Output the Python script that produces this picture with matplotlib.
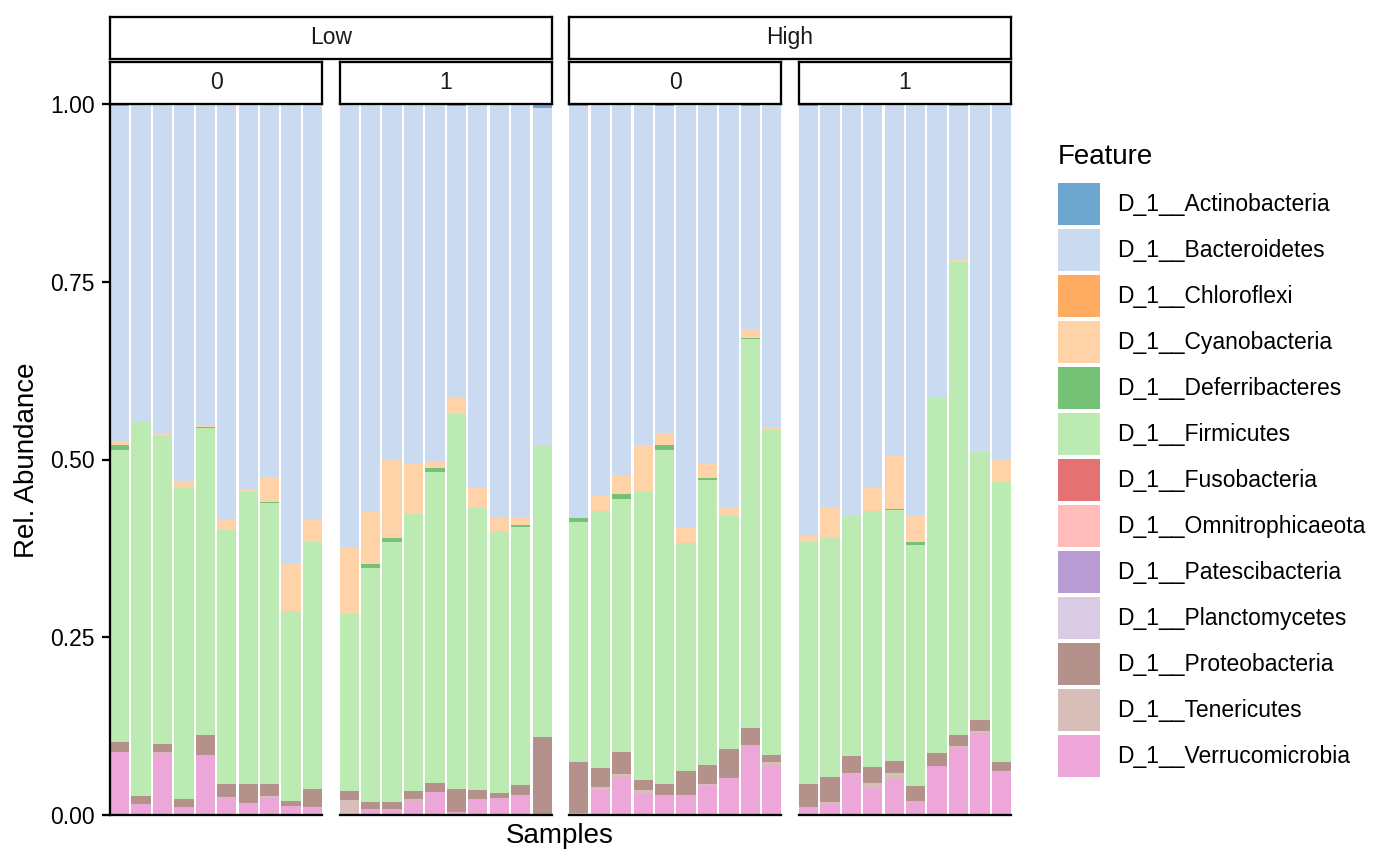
import matplotlib
matplotlib.use("Agg")
import matplotlib.pyplot as plt
from matplotlib.patches import Patch
import numpy as np

plt.rcParams['font.family'] = ['Liberation Sans', 'DejaVu Sans']

# ---------------- data ----------------
levels = ["Low", "High"]
groups = ["0", "1"]
n_per_panel = 10

features = ["D_1__Actinobacteria", "D_1__Bacteroidetes", "D_1__Chloroflexi",
            "D_1__Cyanobacteria", "D_1__Deferribacteres", "D_1__Firmicutes",
            "D_1__Fusobacteria", "D_1__Omnitrophicaeota", "D_1__Patescibacteria",
            "D_1__Planctomycetes", "D_1__Proteobacteria", "D_1__Tenericutes",
            "D_1__Verrucomicrobia"]

# sample order: Low/0 (10), Low/1 (10), High/0 (10), High/1 (10)
actinobacteria = [0.003, 0, 0, 0, 0, 0, 0, 0, 0, 0,
                  0, 0, 0, 0, 0, 0.003, 0, 0, 0, 0.005,
                  0.003, 0.002, 0, 0, 0.003, 0, 0, 0, 0.003, 0,
                  0.003, 0, 0, 0, 0, 0, 0, 0.003, 0, 0]
bacteroidetes = [0.473, 0.446, 0.4645, 0.530, 0.451, 0.583, 0.542, 0.524, 0.646, 0.584,
                 0.624, 0.572, 0.499, 0.505, 0.503, 0.410, 0.538, 0.582, 0.582, 0.474,
                 0.579, 0.548, 0.522, 0.480, 0.460, 0.596, 0.507, 0.568, 0.314, 0.454,
                 0.605, 0.5685, 0.578, 0.5395, 0.495, 0.578, 0.413, 0.217, 0.4875, 0.499]
chloroflexi = [0, 0, 0, 0, 0, 0, 0, 0, 0, 0,
               0, 0, 0, 0, 0, 0, 0, 0, 0, 0,
               0, 0, 0, 0, 0, 0, 0, 0, 0, 0,
               0, 0, 0, 0, 0, 0, 0, 0, 0, 0]
cyanobacteria = [0.003, 0, 0.0025, 0.0095, 0.003, 0.016, 0.004, 0.036, 0.067, 0.032,
                 0.094, 0.075, 0.112, 0.071, 0.0095, 0.023, 0.030, 0.018, 0.0095, 0,
                 0, 0.022, 0.027, 0.066, 0.017, 0.022, 0.019, 0.011, 0.012, 0.004,
                 0.0065, 0.040, 0, 0.0325, 0.075, 0.0385, 0, 0.002, 0.002, 0.033]
deferribacteres = [0.007, 0, 0, 0, 0.001, 0, 0, 0.001, 0, 0,
                   0, 0.006, 0.005, 0, 0.0045, 0, 0, 0, 0.0035, 0.001,
                   0.0055, 0, 0.006, 0, 0.007, 0, 0.003, 0, 0.001, 0,
                   0, 0.0005, 0, 0, 0.001, 0.0035, 0, 0, 0, 0]
firmicutes = [0.411, 0.527, 0.433, 0.4385, 0.433, 0.358, 0.411, 0.396, 0.267, 0.348,
              0.248, 0.329, 0.366, 0.390, 0.438, 0.527, 0.3965, 0.369, 0.363, 0.410,
              0.3385, 0.362, 0.356, 0.405, 0.470, 0.320, 0.401, 0.328, 0.548, 0.457,
              0.3425, 0.337, 0.3385, 0.360, 0.353, 0.339, 0.4995, 0.665, 0.3765, 0.394]
fusobacteria = [0, 0, 0, 0, 0, 0, 0, 0, 0, 0,
                0, 0, 0, 0, 0, 0, 0, 0, 0, 0,
                0, 0, 0, 0, 0, 0, 0, 0, 0, 0,
                0, 0, 0, 0, 0, 0, 0, 0, 0, 0]
omnitrophicaeota = [0, 0, 0, 0, 0, 0, 0, 0, 0, 0,
                    0, 0, 0, 0, 0, 0, 0, 0, 0, 0,
                    0, 0, 0, 0, 0, 0, 0, 0, 0, 0,
                    0, 0, 0, 0, 0, 0, 0, 0, 0, 0]
patescibacteria = [0, 0, 0, 0, 0, 0, 0, 0, 0, 0,
                   0, 0, 0, 0, 0, 0, 0, 0, 0, 0,
                   0, 0, 0, 0, 0, 0, 0, 0, 0, 0,
                   0, 0, 0, 0, 0, 0, 0, 0, 0, 0]
planctomycetes = [0, 0, 0, 0, 0, 0, 0, 0, 0, 0,
                  0, 0, 0, 0, 0, 0, 0, 0, 0, 0,
                  0, 0, 0, 0, 0, 0, 0, 0, 0, 0,
                  0, 0, 0, 0, 0, 0, 0, 0, 0, 0]
proteobacteria = [0.014, 0.011, 0.011, 0.011, 0.027, 0.017, 0.026, 0.016, 0.007, 0.025,
                  0.013, 0.0095, 0.0095, 0.012, 0.013, 0.033, 0.0135, 0.007, 0.014, 0.110,
                  0.071, 0.027, 0.031, 0.0135, 0.015, 0.034, 0.027, 0.041, 0.023, 0.011,
                  0.032, 0.036, 0.0245, 0.023, 0.017, 0.021, 0.0185, 0.016, 0.016, 0.0115]
tenericutes = [0, 0, 0.0015, 0, 0, 0.002, 0, 0.003, 0.001, 0.001,
               0.021, 0, 0, 0.003, 0, 0, 0, 0, 0, 0,
               0, 0.0035, 0.004, 0.0065, 0, 0, 0.002, 0, 0.001, 0.004,
               0, 0.002, 0.002, 0.007, 0.008, 0, 0, 0.002, 0.003, 0.002]
verrucomicrobia = [0.089, 0.016, 0.0875, 0.011, 0.085, 0.024, 0.017, 0.024, 0.012, 0.010,
                   0, 0.0085, 0.0085, 0.019, 0.032, 0.004, 0.022, 0.024, 0.028, 0,
                   0.003, 0.0355, 0.054, 0.029, 0.028, 0.028, 0.041, 0.052, 0.098, 0.070,
                   0.011, 0.016, 0.057, 0.038, 0.051, 0.020, 0.069, 0.095, 0.115, 0.0605]

series = [actinobacteria, bacteroidetes, chloroflexi, cyanobacteria, deferribacteres,
          firmicutes, fusobacteria, omnitrophicaeota, patescibacteria, planctomycetes,
          proteobacteria, tenericutes, verrucomicrobia]

colors = ["#1f77b4", "#aec7e8", "#ff7f0e", "#ffbb78", "#2ca02c", "#98df8a",
          "#d62728", "#ff9896", "#9467bd", "#c5b0d5", "#8c564b", "#c49c94", "#e377c2"]
ALPHA = 0.65

# ---------------- layout ----------------
W, H = 1400, 865
fig = plt.figure(figsize=(W / 100, H / 100), dpi=100)

def fx(px):
    return px / W

def fy(py):
    return 1 - py / H

panel_left = [110, 339.6, 569.2, 798.8]
panel_w = 212.2
panel_top, panel_bot = 104, 815
line_w = 1.65

axes = []
for i, left in enumerate(panel_left):
    ax = fig.add_axes([fx(left), fy(panel_bot), fx(panel_w), (panel_bot - panel_top) / H])
    axes.append(ax)
    sl = slice(i * n_per_panel, (i + 1) * n_per_panel)
    x = np.arange(1, n_per_panel + 1)
    bottom = np.zeros(n_per_panel)
    # ggplot stacks first level on top -> draw from the last feature upward
    for name, vals, col in reversed(list(zip(features, series, colors))):
        v = np.array(vals[sl], dtype=float)
        ax.bar(x, v, bottom=bottom, width=0.9, color=col, alpha=ALPHA,
               linewidth=0, align='center')
        bottom += v
    ax.set_xlim(0.55, n_per_panel + 0.45)
    ax.set_ylim(0, 1)
    ax.set_xticks([])
    for s in ['top', 'right']:
        ax.spines[s].set_visible(False)
    ax.spines['bottom'].set_linewidth(line_w)
    if i == 0:
        ax.spines['left'].set_linewidth(line_w)
        ax.set_yticks([0, 0.25, 0.5, 0.75, 1.0])
        ax.set_yticklabels(["0.00", "0.25", "0.50", "0.75", "1.00"])
        ax.tick_params(axis='y', length=5.8, width=line_w, pad=5.2,
                       labelsize=16.5, colors='black')
    else:
        ax.spines['left'].set_visible(False)
        ax.set_yticks([])

# ---------------- strips ----------------
def strip(x0, x1, y0, y1, label):
    sax = fig.add_axes([fx(x0), fy(y1), fx(x1 - x0), (y1 - y0) / H])
    sax.set_xticks([])
    sax.set_yticks([])
    sax.set_facecolor('white')
    for s in sax.spines.values():
        s.set_linewidth(line_w)
        s.set_color('black')
    sax.text(0.5, 0.5, label, ha='center', va='center', fontsize=16.5,
             color='#1a1a1a', transform=sax.transAxes)
    return sax

# outer strips
for j, lev in enumerate(levels):
    x0 = panel_left[2 * j]
    x1 = panel_left[2 * j + 1] + panel_w
    strip(x0, x1, 16.5, 58.5, lev)
# inner strips
for i, left in enumerate(panel_left):
    strip(left, left + panel_w, 61.5, 104, groups[i % 2])

# ---------------- axis titles ----------------
fig.text(fx(27), fy(460), "Rel. Abundance", rotation=90, ha='center', va='center',
         fontsize=20)
fig.text(fx(560), fy(843), "Samples", ha='center', va='baseline', fontsize=20)

# ---------------- legend ----------------
handles = [Patch(facecolor=c, alpha=ALPHA, linewidth=0) for c in colors]
leg = fig.legend(handles, features, loc='upper left',
                 bbox_to_anchor=(fx(1058), fy(144)), frameon=False,
                 title="Feature", title_fontsize=20, fontsize=16.5,
                 handlelength=1.83, handleheight=2.45, labelspacing=0.17,
                 handletextpad=0.74, borderpad=0, borderaxespad=0,
                 alignment='left')
leg._legend_box.sep = 9

fig.savefig("out.png", dpi=100)
